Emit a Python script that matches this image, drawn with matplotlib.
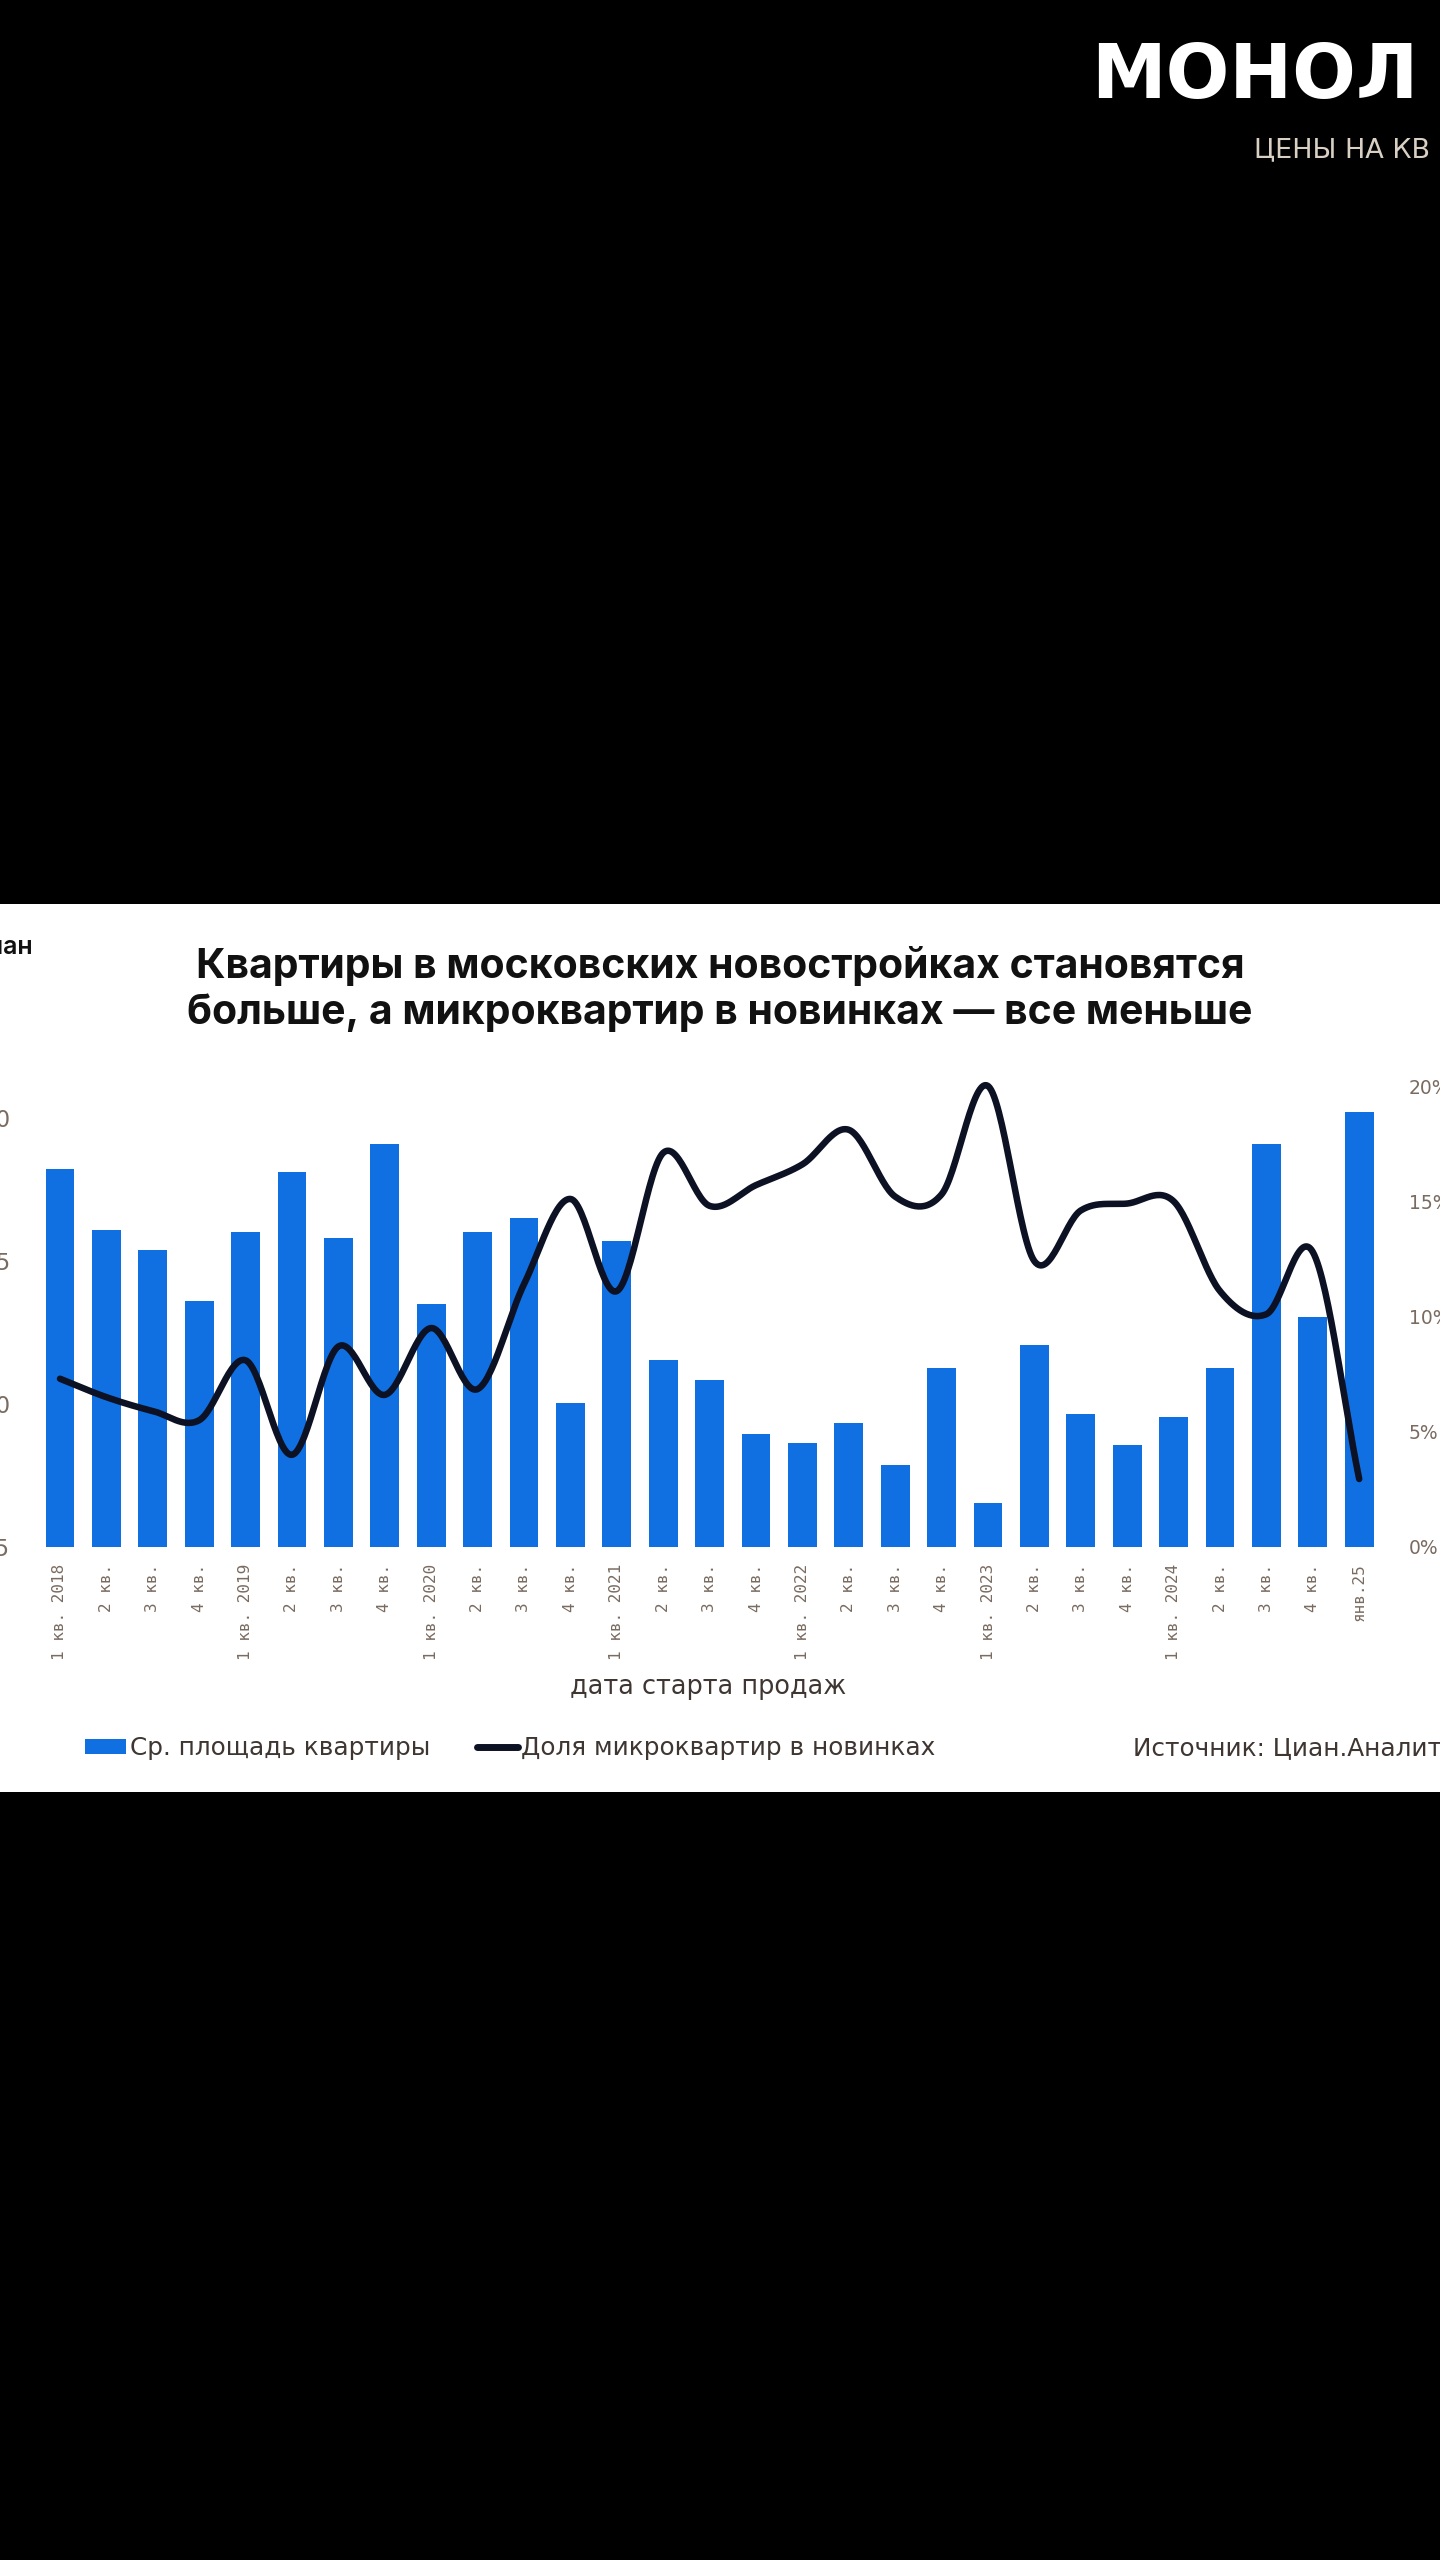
import numpy as np
import matplotlib
matplotlib.use("Agg")
import matplotlib.pyplot as plt
from matplotlib.patches import Rectangle, Patch
from matplotlib.lines import Line2D

# ---------------- data ----------------
categories = ["1 кв. 2018", "2 кв.", "3 кв.", "4 кв.",
              "1 кв. 2019", "2 кв.", "3 кв.", "4 кв.",
              "1 кв. 2020", "2 кв.", "3 кв.", "4 кв.",
              "1 кв. 2021", "2 кв.", "3 кв.", "4 кв.",
              "1 кв. 2022", "2 кв.", "3 кв.", "4 кв.",
              "1 кв. 2023", "2 кв.", "3 кв.", "4 кв.",
              "1 кв. 2024", "2 кв.", "3 кв.", "4 кв.",
              "янв.25"]
avg_area = [58.2, 56.1, 55.4, 53.6, 56.0, 58.1, 55.8, 59.1,
            53.5, 56.0, 56.5, 50.05, 55.7, 51.55, 50.85, 48.95,
            48.65, 49.35, 47.85, 51.25, 46.55, 52.05, 49.65, 48.55,
            49.55, 51.25, 59.1, 53.05, 60.2]
micro_share = [7.3, 6.5, 5.9, 5.5, 8.1, 4.0, 8.7, 6.6,
               9.5, 6.85, 11.4, 15.1, 11.1, 17.1, 14.8, 15.7,
               16.6, 18.1, 15.2, 15.3, 20.0, 12.4, 14.6, 14.9,
               15.0, 11.1, 10.1, 12.8, 2.95]
left_ticks = [45, 50, 55, 60]
right_ticks = [0, 5, 10, 15, 20]

title = "Квартиры в московских новостройках становятся\nбольше, а микроквартир в новинках — все меньше"
xlabel = "дата старта продаж"
legend_bar = "Ср. площадь квартиры"
legend_line = "Доля микроквартир в новинках"
source = "Источник: Циан.Аналитика"

BAR_C = "#1070E2"
LINE_C = "#0c1124"
TICK_C = "#7a6b60"
TEXT_C = "#3f3632"

W, H = 1440, 2560
fig = plt.figure(figsize=(14.4, 25.6), dpi=100, facecolor="black")


def fx(px):
    return px / W


def fy(py):
    return 1 - py / H


# background panel
bg = fig.add_axes([0, 0, 1, 1], zorder=0)
bg.set_xlim(0, W)
bg.set_ylim(H, 0)
bg.axis("off")
bg.add_patch(Rectangle((0, 904), W, 888, facecolor="white", edgecolor="none"))


def catmull_rom(xs, ys, n=30):
    pts = np.column_stack([xs, ys]).astype(float)
    P = np.vstack([2 * pts[0] - pts[1], pts, 2 * pts[-1] - pts[-2]])
    t = np.linspace(0, 1, n, endpoint=False)[:, None]
    out = []
    for i in range(1, len(P) - 2):
        p0, p1, p2, p3 = P[i - 1], P[i], P[i + 1], P[i + 2]
        seg = 0.5 * ((2 * p1) + (-p0 + p2) * t + (2 * p0 - 5 * p1 + 4 * p2 - p3) * t ** 2
                     + (-p0 + 3 * p1 - 3 * p2 + p3) * t ** 3)
        out.append(seg)
    out.append(P[-2][None, :])
    return np.vstack(out)


# chart axes
ax_l, ax_r, ax_t, ax_b = 36.8, 1382.4, 1085, 1547
ax = fig.add_axes([fx(ax_l), fy(ax_b), fx(ax_r) - fx(ax_l), (ax_b - ax_t) / H], zorder=2)
ax.patch.set_alpha(0)
x = np.arange(len(categories))
ax.bar(x, avg_area, width=0.62, color=BAR_C, zorder=1)
ax.set_xlim(-0.5, len(categories) - 0.5)
ax.set_ylim(45, 45 + (ax_b - ax_t) / 28.6)
ax.set_xticks(x)
ax.set_xticklabels(categories, rotation=90, family="DejaVu Sans Mono", fontsize=11.5, color=TICK_C)
ax.tick_params(axis="x", length=0, pad=12)
ax.set_yticks(left_ticks)
ax.set_yticklabels([str(v) for v in left_ticks], family="DejaVu Sans", fontsize=16.5, color=TICK_C)
ax.tick_params(axis="y", length=0, pad=19)
for s in ax.spines.values():
    s.set_visible(False)

ax2 = ax.twinx()
ax2.set_zorder(3)
ax2.patch.set_alpha(0)
ax2.set_ylim(0, (ax_b - ax_t) / 23.05)
curve = catmull_rom(x, micro_share)
ax2.plot(curve[:, 0], curve[:, 1], color=LINE_C, lw=4.7, solid_capstyle="round",
         solid_joinstyle="round", clip_on=False)
ax2.set_yticks(right_ticks)
ax2.set_yticklabels([f"{v}%" for v in right_ticks], family="DejaVu Sans", fontsize=13.5, color=TICK_C)
ax2.tick_params(axis="y", length=0, pad=19)
for s in ax2.spines.values():
    s.set_visible(False)

# titles and texts
fig.text(0.5, fy(989), title, ha="center", va="center", fontsize=29.5, fontweight="bold",
         family=["Inter", "DejaVu Sans"], color="#111111", linespacing=1.22)
fig.text(fx(33), fy(947), "Циан", ha="right", va="center", fontsize=18, fontweight="semibold",
         family=["Inter", "DejaVu Sans"], color="#111111")
fig.text(fx(708), fy(1687), xlabel, ha="center", va="center", fontsize=18.4,
         family="DejaVu Sans", color=TEXT_C)

handles = [Patch(facecolor=BAR_C, edgecolor="none", label=legend_bar),
           Line2D([], [], color=LINE_C, lw=5, solid_capstyle="round", label=legend_line)]
leg = fig.legend(handles=handles, loc="center left", bbox_to_anchor=(fx(85), fy(1748)), ncol=2,
                 frameon=False, prop={"family": "DejaVu Sans", "size": 17.8}, handlelength=1.65,
                 handleheight=0.55, handletextpad=0.15, columnspacing=1.9, borderaxespad=0,
                 borderpad=0, labelcolor=TEXT_C)
fig.text(fx(1133), fy(1748), source, ha="left", va="center", fontsize=17.8,
         family="DejaVu Sans", color=TEXT_C)

# logo block (top right)
fig.text(fx(1091), fy(98), "МОНОЛ", ha="left", va="baseline", fontsize=54, fontweight="heavy",
         family="DejaVu Sans", color="white")
fig.text(fx(1254), fy(157), "ЦЕНЫ НА КВ", ha="left", va="baseline", fontsize=19.5,
         fontweight="normal", family="DejaVu Sans", color="#d9d0c3")

fig.savefig("out.png", dpi=100, facecolor="black")
